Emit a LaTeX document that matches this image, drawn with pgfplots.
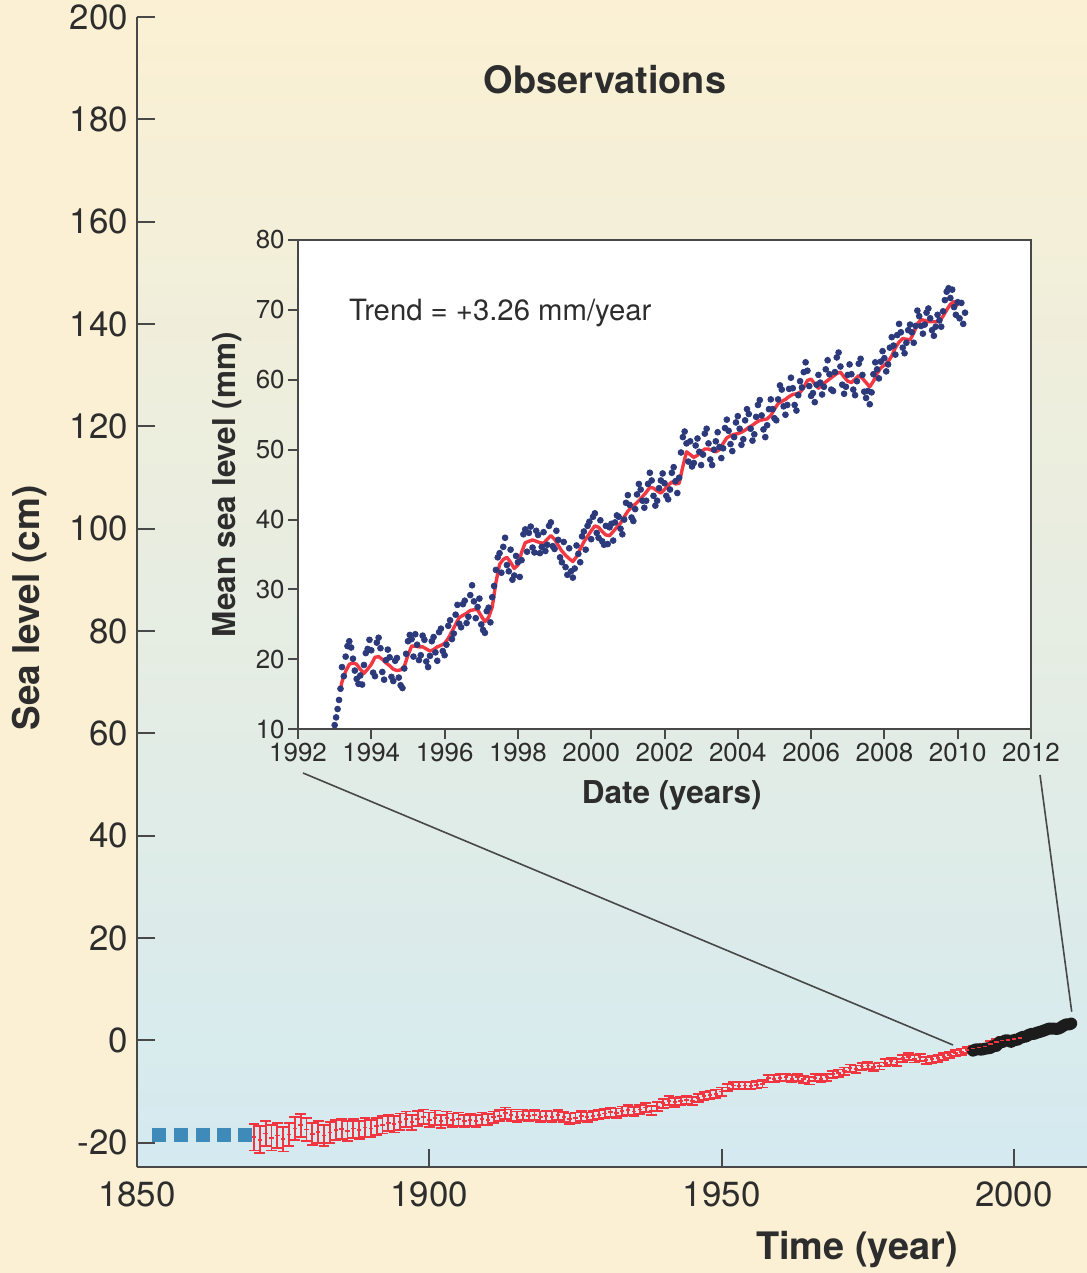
\documentclass[border=0pt]{standalone}
\usepackage{pgfplots}
\pgfplotsset{compat=1.18}
\usepackage{pgfplotstable}
\usepackage{fontspec}
\setmainfont{TeX Gyre Heros}

\definecolor{cream}{RGB}{251,240,211}
\definecolor{paleblue}{RGB}{212,234,240}
\definecolor{axisgray}{RGB}{72,72,72}
\definecolor{labelgray}{RGB}{45,45,45}
\definecolor{errred}{RGB}{240,52,64}
\definecolor{histblue}{RGB}{62,139,186}
\definecolor{dotblue}{RGB}{44,58,124}
\definecolor{trendred}{RGB}{242,56,66}
\definecolor{altblack}{RGB}{28,28,28}

% Reconstructed global mean sea level (cm) with 1-sigma uncertainty
\pgfplotstableread{
year sl err
1870 -18.9 2.6
1871 -19.4 2.6
1872 -18.2 2.5
1873 -19.0 2.5
1874 -18.6 2.4
1875 -19.3 2.4
1876 -18.4 2.3
1877 -17.2 2.3
1878 -16.6 2.2
1879 -17.4 2.2
1880 -18.3 2.1
1881 -17.9 2.1
1882 -18.6 2.0
1883 -18.0 2.0
1884 -17.5 1.9
1885 -17.3 1.9
1886 -17.7 1.9
1887 -17.2 1.8
1888 -17.5 1.8
1889 -17.0 1.8
1890 -17.2 1.7
1891 -16.8 1.7
1892 -16.5 1.7
1893 -16.1 1.6
1894 -16.4 1.6
1895 -15.9 1.6
1896 -15.4 1.5
1897 -16.0 1.5
1898 -15.3 1.5
1899 -14.9 1.4
1900 -15.5 1.4
1901 -15.1 1.4
1902 -15.8 1.3
1903 -15.2 1.3
1904 -15.6 1.3
1905 -15.4 1.3
1906 -15.8 1.2
1907 -15.5 1.2
1908 -15.7 1.2
1909 -15.3 1.2
1910 -15.5 1.1
1911 -15.0 1.1
1912 -14.7 1.1
1913 -14.2 1.1
1914 -14.6 1.1
1915 -14.9 1.0
1916 -14.5 1.0
1917 -14.8 1.0
1918 -14.6 1.0
1919 -14.9 1.0
1920 -14.7 1.0
1921 -14.9 1.0
1922 -14.6 1.0
1923 -15.0 1.0
1924 -15.3 1.0
1925 -15.1 1.0
1926 -14.8 1.0
1927 -15.0 0.9
1928 -14.7 0.9
1929 -14.5 0.9
1930 -14.3 0.9
1931 -14.0 0.9
1932 -14.2 0.9
1933 -13.8 0.9
1934 -13.6 0.9
1935 -13.9 0.9
1936 -13.5 0.9
1937 -13.1 0.9
1938 -13.7 0.9
1939 -12.9 0.9
1940 -12.3 0.9
1941 -11.8 0.9
1942 -12.1 0.9
1943 -11.9 0.8
1944 -11.6 0.8
1945 -11.8 0.8
1946 -11.2 0.8
1947 -10.9 0.8
1948 -10.6 0.8
1949 -10.4 0.8
1950 -10.0 0.8
1951 -9.2 0.7
1952 -8.8 0.7
1953 -8.9 0.7
1954 -8.8 0.7
1955 -8.9 0.7
1956 -8.7 0.7
1957 -8.5 0.7
1958 -7.4 0.7
1959 -7.5 0.7
1960 -7.3 0.7
1961 -7.2 0.7
1962 -7.5 0.7
1963 -7.2 0.7
1964 -7.6 0.7
1965 -7.9 0.7
1966 -7.3 0.7
1967 -7.5 0.7
1968 -7.2 0.7
1969 -6.6 0.7
1970 -6.4 0.7
1971 -6.0 0.7
1972 -5.4 0.7
1973 -5.6 0.7
1974 -5.1 0.7
1975 -4.9 0.7
1976 -5.2 0.7
1977 -5.0 0.7
1978 -4.4 0.7
1979 -4.1 0.7
1980 -4.3 0.7
1981 -3.5 0.7
1982 -3.2 0.7
1983 -3.6 0.7
1984 -3.3 0.7
1985 -3.9 0.7
1986 -3.7 0.7
1987 -3.5 0.7
1988 -3.2 0.7
1989 -2.9 0.6
1990 -2.4 0.6
1991 -2.2 0.6
1992 -1.9 0.6
1993 -1.6 0.6
1994 -1.4 0.6
1995 -1.2 0.6
1996 -0.7 0.6
1997 -0.3 0.6
1998 0.0 0.6
1999 0.1 0.6
2000 0.3 0.6
2001 0.5 0.6
}\recon

% Satellite altimetry record on the long-term scale (cm)
\pgfplotstableread{
year cm
1993.0 -2.00
1993.5 -1.75
1994.0 -1.77
1994.5 -1.79
1995.0 -1.64
1995.5 -1.55
1996.0 -1.47
1996.5 -1.07
1997.0 -1.08
1997.5 -0.34
1998.0 -0.35
1998.5 -0.01
1999.0 0.02
1999.5 -0.30
2000.0 0.14
2000.5 0.07
2001.0 0.42
2001.5 0.69
2002.0 0.73
2002.5 1.06
2003.0 1.27
2003.5 1.30
2004.0 1.53
2004.5 1.69
2005.0 1.88
2005.5 2.09
2006.0 2.31
2006.5 2.31
2007.0 2.28
2007.5 2.26
2008.0 2.51
2008.5 2.89
2009.0 3.16
2009.5 3.13
2009.8 3.30
}\altim

% Altimetry mean sea level (mm): individual cycles
\pgfplotstableread{
t mm
1993.00 10.6
1993.04 11.7
1993.08 12.9
1993.12 14.2
1993.16 15.8
1993.20 18.9
1993.25 17.6
1993.30 20.4
1993.35 21.9
1993.40 22.6
1993.45 21.7
1993.50 20.1
1993.55 18.4
1993.60 17.2
1993.65 16.5
1993.70 17.7
1993.75 16.4
1993.80 19.2
1993.85 20.9
1993.90 21.5
1993.95 22.8
1994.00 21.3
1994.05 18.1
1994.10 17.6
1994.15 22.4
1994.20 23.1
1994.25 21.6
1994.30 18.2
1994.35 17.1
1994.40 19.9
1994.45 21.4
1994.50 20.3
1994.55 17.5
1994.60 16.9
1994.65 19.8
1994.70 20.2
1994.75 17.4
1994.80 16.3
1994.85 15.9
1994.90 18.7
1994.95 20.8
1995.00 22.6
1995.05 23.5
1995.10 22.9
1995.15 20.4
1995.20 23.6
1995.25 22.1
1995.30 19.9
1995.35 20.6
1995.40 23.4
1995.45 22.8
1995.50 19.7
1995.55 18.9
1995.60 20.5
1995.65 22.6
1995.70 23.2
1995.75 21.0
1995.80 19.8
1995.85 23.9
1995.90 24.4
1995.95 21.2
1996.00 20.6
1996.05 22.1
1996.10 24.8
1996.15 25.6
1996.20 22.9
1996.25 23.7
1996.30 26.4
1996.35 27.8
1996.40 25.1
1996.45 24.6
1996.50 27.9
1996.55 28.4
1996.60 25.2
1996.65 26.1
1996.70 29.2
1996.75 30.6
1996.80 28.3
1996.85 25.9
1996.90 27.5
1996.95 28.7
1997.00 25.0
1997.05 24.2
1997.10 23.8
1997.15 26.9
1997.20 27.4
1997.25 25.3
1997.30 28.9
1997.35 30.5
1997.40 32.8
1997.45 34.6
1997.50 35.2
1997.55 32.4
1997.60 36.1
1997.65 37.4
1997.70 33.5
1997.75 32.6
1997.80 35.7
1997.85 31.4
1997.90 32.0
1997.95 34.8
1998.00 33.9
1998.05 31.8
1998.10 34.2
1998.15 37.9
1998.20 38.6
1998.25 35.4
1998.30 38.1
1998.35 39.0
1998.40 36.0
1998.45 35.3
1998.50 38.4
1998.55 37.8
1998.60 35.2
1998.65 36.1
1998.70 38.2
1998.75 35.5
1998.80 36.4
1998.85 39.1
1998.90 39.6
1998.95 36.2
1999.00 35.8
1999.05 38.4
1999.10 37.1
1999.15 34.6
1999.20 33.9
1999.25 36.8
1999.30 33.2
1999.35 32.1
1999.40 35.9
1999.45 32.6
1999.50 31.7
1999.55 33.0
1999.60 36.3
1999.65 35.1
1999.70 33.9
1999.75 37.6
1999.80 38.3
1999.85 35.7
1999.90 39.1
1999.95 39.7
2000.00 37.2
2000.05 40.4
2000.10 40.9
2000.15 38.1
2000.20 37.4
2000.25 39.9
2000.30 36.9
2000.35 36.4
2000.40 39.1
2000.45 36.5
2000.50 38.9
2000.55 39.4
2000.60 37.0
2000.65 39.6
2000.70 40.6
2000.75 40.4
2000.80 38.7
2000.85 37.9
2000.90 40.0
2000.95 42.4
2001.00 43.5
2001.05 42.1
2001.10 40.3
2001.15 39.8
2001.20 41.5
2001.25 43.6
2001.30 45.1
2001.35 44.3
2001.40 42.7
2001.45 41.7
2001.50 42.7
2001.55 45.1
2001.60 46.7
2001.65 45.6
2001.70 43.4
2001.75 42.0
2001.80 42.7
2001.85 44.5
2001.90 45.6
2001.95 46.6
2002.00 45.2
2002.05 43.4
2002.10 42.9
2002.15 44.3
2002.20 46.7
2002.25 47.5
2002.30 45.5
2002.35 43.8
2002.40 46.0
2002.45 49.6
2002.50 51.8
2002.55 52.6
2002.60 50.9
2002.65 48.3
2002.70 51.2
2002.75 47.6
2002.80 48.1
2002.85 50.6
2002.90 51.6
2002.95 49.7
2003.00 47.8
2003.05 49.3
2003.10 52.3
2003.15 53.0
2003.20 50.9
2003.25 48.6
2003.30 47.8
2003.35 50.0
2003.40 51.2
2003.45 52.5
2003.50 50.4
2003.55 48.8
2003.60 50.2
2003.65 53.1
2003.70 54.3
2003.75 52.7
2003.80 50.8
2003.85 49.8
2003.90 51.8
2003.95 53.9
2004.00 54.8
2004.05 53.0
2004.10 50.7
2004.15 51.5
2004.20 54.2
2004.25 55.8
2004.30 55.1
2004.35 53.0
2004.40 51.3
2004.45 52.2
2004.50 54.7
2004.55 56.4
2004.60 57.1
2004.65 54.9
2004.70 52.9
2004.75 51.8
2004.80 53.5
2004.85 55.8
2004.90 57.2
2004.95 55.8
2005.00 54.5
2005.05 54.2
2005.10 57.2
2005.15 59.2
2005.20 58.6
2005.25 56.2
2005.30 55.0
2005.35 56.4
2005.40 58.7
2005.45 60.3
2005.50 58.8
2005.55 56.4
2005.60 55.6
2005.65 57.8
2005.70 59.8
2005.75 58.9
2005.80 61.1
2005.85 62.5
2005.90 61.3
2005.95 59.1
2006.00 57.7
2006.05 58.1
2006.10 56.8
2006.15 59.3
2006.20 60.7
2006.25 59.6
2006.30 57.9
2006.35 59.0
2006.40 61.5
2006.45 62.8
2006.50 60.8
2006.55 58.6
2006.60 58.4
2006.65 61.1
2006.70 63.2
2006.75 63.9
2006.80 61.9
2006.85 59.3
2006.90 58.0
2006.95 59.0
2007.00 60.7
2007.05 62.2
2007.10 60.8
2007.15 58.6
2007.20 57.8
2007.25 59.8
2007.30 62.3
2007.35 63.0
2007.40 60.7
2007.45 58.3
2007.50 57.4
2007.55 58.4
2007.60 56.5
2007.65 58.2
2007.70 60.8
2007.75 62.5
2007.80 61.5
2007.85 60.2
2007.90 62.6
2007.95 64.1
2008.00 63.1
2008.05 61.2
2008.10 62.2
2008.15 64.6
2008.20 66.1
2008.25 64.9
2008.30 63.6
2008.35 66.4
2008.40 68.0
2008.45 66.8
2008.50 64.6
2008.55 63.8
2008.60 65.3
2008.65 67.1
2008.70 67.9
2008.75 66.8
2008.80 65.3
2008.85 67.7
2008.90 69.9
2008.95 69.1
2009.00 67.7
2009.05 66.6
2009.10 67.9
2009.15 69.6
2009.20 70.2
2009.25 68.8
2009.30 67.1
2009.35 66.3
2009.40 67.6
2009.45 69.3
2009.50 68.5
2009.55 67.6
2009.60 69.8
2009.65 71.4
2009.70 72.6
2009.75 73.1
2009.80 71.7
2009.85 72.9
2009.90 70.4
2009.95 69.3
2010.00 71.1
2010.05 68.8
2010.10 71.0
2010.15 68.0
2010.20 69.6
}\cycles

% Smoothed altimetry mean sea level (mm)
\pgfplotstableread{
t mm
1993.15 15.5
1993.2 16.8
1993.3 18.3
1993.4 19.3
1993.5 19.5
1993.6 19.3
1993.7 18.6
1993.8 18.0
1993.9 18.6
1994.0 19.3
1994.1 20.3
1994.2 20.4
1994.3 20.0
1994.4 19.5
1994.5 19.1
1994.6 18.6
1994.7 18.4
1994.8 18.5
1994.9 19.0
1995.0 20.6
1995.1 21.9
1995.2 21.9
1995.3 21.8
1995.4 21.8
1995.5 21.5
1995.6 21.2
1995.7 21.4
1995.8 21.8
1995.9 22.0
1996.0 22.3
1996.1 23.0
1996.2 24.0
1996.3 25.0
1996.4 26.0
1996.5 26.3
1996.6 26.6
1996.7 27.0
1996.8 27.1
1996.9 27.1
1997.0 26.2
1997.1 25.4
1997.2 26.0
1997.3 27.5
1997.4 31.0
1997.5 33.6
1997.6 34.3
1997.7 34.6
1997.8 33.9
1997.9 33.0
1998.0 33.5
1998.1 35.3
1998.2 36.7
1998.3 36.9
1998.4 37.1
1998.5 36.9
1998.6 36.7
1998.7 36.6
1998.8 37.2
1998.9 37.7
1999.0 37.2
1999.1 36.3
1999.2 35.5
1999.3 34.9
1999.4 34.4
1999.5 34.0
1999.6 34.7
1999.7 35.8
1999.8 36.8
1999.9 37.6
2000.0 38.4
2000.1 39.1
2000.2 38.9
2000.3 38.3
2000.4 37.8
2000.5 37.7
2000.6 38.3
2000.7 38.9
2000.8 39.5
2000.9 40.4
2001.0 41.2
2001.1 41.8
2001.2 42.2
2001.3 42.7
2001.4 43.3
2001.5 43.9
2001.6 44.6
2001.7 44.5
2001.8 44.1
2001.9 43.8
2002.0 44.3
2002.1 44.9
2002.2 45.4
2002.3 45.1
2002.4 45.2
2002.5 47.6
2002.6 49.7
2002.7 49.3
2002.8 48.9
2002.9 49.2
2003.0 49.7
2003.1 50.1
2003.2 50.1
2003.3 49.9
2003.4 49.7
2003.5 50.0
2003.6 50.9
2003.7 51.7
2003.8 52.0
2003.9 52.2
2004.0 52.3
2004.1 52.5
2004.2 52.8
2004.3 53.2
2004.4 53.5
2004.5 53.9
2004.6 54.2
2004.7 54.3
2004.8 54.4
2004.9 54.9
2005.0 55.8
2005.1 56.6
2005.2 56.9
2005.3 57.2
2005.4 57.6
2005.5 57.9
2005.6 58.0
2005.7 58.2
2005.8 58.9
2005.9 59.9
2006.0 60.1
2006.1 59.4
2006.2 58.8
2006.3 59.3
2006.4 59.7
2006.5 60.1
2006.6 60.5
2006.7 60.9
2006.8 61.1
2006.9 60.4
2007.0 59.8
2007.1 59.6
2007.2 60.1
2007.3 60.6
2007.4 60.2
2007.5 59.6
2007.6 59.0
2007.7 59.8
2007.8 60.9
2007.9 61.7
2008.0 62.1
2008.1 62.6
2008.2 63.4
2008.3 64.6
2008.4 65.4
2008.5 65.9
2008.6 65.8
2008.7 65.7
2008.8 66.7
2008.9 68.0
2009.0 68.6
2009.1 68.5
2009.2 68.3
2009.3 68.3
2009.4 68.3
2009.5 68.3
2009.6 69.1
2009.7 70.0
2009.8 70.8
2009.9 71.2
2010.0 70.5
}\smooth

\begin{document}
\begin{tikzpicture}
% page and plotting-area backgrounds
\useasboundingbox (-68.5bp,-53.15bp) rectangle (475bp,583.35bp);
\fill[cream] (-68.5bp,-53.15bp) rectangle (475bp,583.35bp);
\shade[top color=cream, bottom color=paleblue] (0bp,0bp) rectangle (475bp,583.35bp);

% long-term record
\begin{axis}[
  at={(0bp,0bp)}, anchor=south west, scale only axis,
  width=475bp, height=574.85bp,
  xmin=1850, xmax=2012.5, ymin=-24.68, ymax=200,
  axis x line*=bottom, axis y line*=left,
  axis line style={axisgray, line width=1bp, -},
  xtick={1850,1900,1950,2000}, ytick={-20,0,...,200},
  xtick pos=bottom, ytick pos=left,
  tick align=inside, major tick length=9bp,
  tick style={axisgray, line width=1bp},
  tick label style={font=\fontsize{17.5}{20}\selectfont, text=labelgray},
  xticklabel style={yshift=-4bp},
  yticklabel style={xshift=-1bp},
  /pgf/number format/assume math mode=true,
  /pgf/number format/1000 sep={},
  clip=false,
]
\addplot[histblue, only marks, mark=square*, mark size=3.2bp]
  coordinates {(1853.8,-18.5) (1857.5,-18.5) (1861.3,-18.5) (1864.9,-18.5) (1868.5,-18.5)};
\addplot[color=errred, draw=errred, only marks, mark=-, mark size=1.1bp,
  mark options={draw=errred, line width=0.9bp},
  error bars/.cd, y dir=both, y explicit,
  error bar style={line width=0.9bp, draw=errred},
  error mark options={draw=errred, rotate=90, mark size=2.7bp, line width=0.9bp}]
  table[x=year, y=sl, y error=err] {\recon};
\addplot[altblack, line width=6bp, line cap=round, line join=round]
  table[x=year, y=cm] {\altim};
\end{axis}

% satellite era inset
\begin{axis}[
  at={(80.5bp,218.7bp)}, anchor=south west, scale only axis,
  width=366.5bp, height=244.65bp,
  xmin=1992, xmax=2012, ymin=10, ymax=80,
  axis background/.style={fill=white},
  axis line style={axisgray, line width=1bp},
  xtick={1992,1994,...,2012}, ytick={10,20,...,80},
  xtick pos=bottom, ytick pos=left,
  tick align=outside, major tick length=5bp,
  tick style={axisgray, line width=1bp},
  tick label style={font=\fontsize{13}{15}\selectfont, text=labelgray, inner sep=1.5bp},
  /pgf/number format/assume math mode=true,
  /pgf/number format/1000 sep={},
  xlabel={Date (years)}, ylabel={Mean sea level (mm)},
  label style={font=\bfseries\fontsize{15.8}{18}\selectfont, text=labelgray},
  xlabel style={at={(axis description cs:0.51,-0.135)}, anchor=center},
  ylabel style={at={(axis description cs:-0.096,0.5)}, anchor=center},
]
\addplot[dotblue, only marks, mark=*, mark size=1.45bp]
  table[x=t, y=mm] {\cycles};
\addplot[trendred, line width=1.7bp, line join=round]
  table[x=t, y=mm] {\smooth};
\node[anchor=west, font=\fontsize{14.7}{17}\selectfont, text=labelgray]
  at (axis cs:1993.2,69.6) {Trend = +3.26 mm/year};
\end{axis}

% leader lines from the inset to the satellite record
\draw[axisgray, line width=0.8bp] (83bp,196.85bp) -- (408bp,60.85bp);
\draw[axisgray, line width=0.8bp] (451.5bp,195.85bp) -- (467.35bp,77.5bp);

% titles and axis labels
\node[font=\bfseries\fontsize{19}{22}\selectfont, text=labelgray] at (234bp,543.35bp) {Observations};
\node[font=\bfseries\fontsize{18.5}{22}\selectfont, text=labelgray, rotate=90] at (-53.5bp,279.35bp) {Sea level (cm)};
\node[font=\bfseries\fontsize{19}{22}\selectfont, text=labelgray] at (360bp,-41.65bp) {Time (year)};
\end{tikzpicture}
\end{document}
